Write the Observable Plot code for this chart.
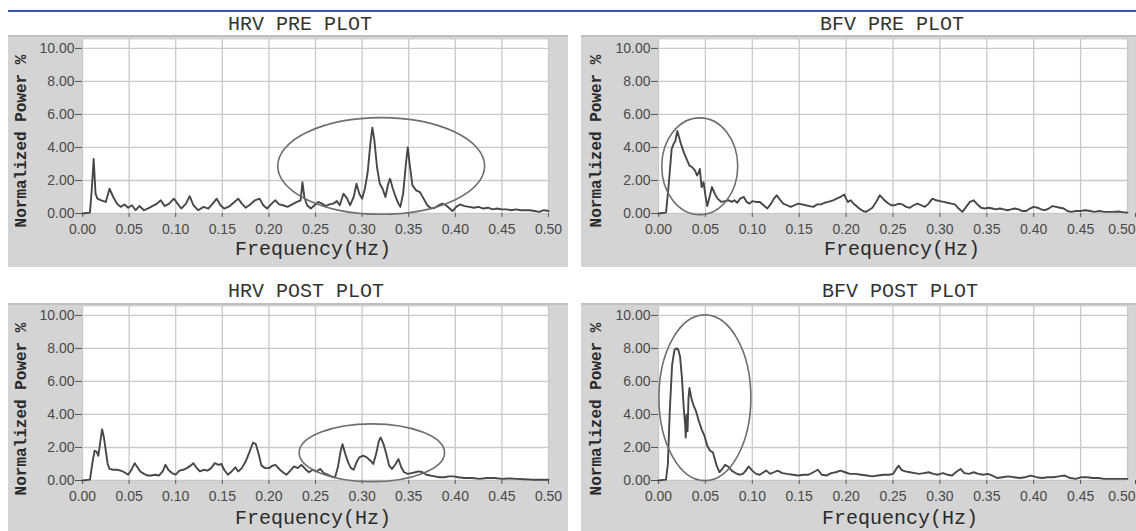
<!DOCTYPE html>
<html><head><meta charset="utf-8">
<script src="https://cdn.jsdelivr.net/npm/d3@7"></script>
<script src="https://cdn.jsdelivr.net/npm/@observablehq/plot@0.6"></script>
<style>
html,body{margin:0;padding:0;background:#fff;width:1136px;height:531px;overflow:hidden;}
#root{position:relative;width:1136px;height:531px;overflow:hidden;}
.frame{position:absolute;background:#d4d4d4;border-top:2px solid #c0c0c0;box-sizing:border-box;}
.frame svg{position:absolute;left:0;top:-2px;}
.txt{position:absolute;font-family:"Courier New","Liberation Mono",monospace;color:#333;white-space:nowrap;line-height:1;transform:translate(-50%,-50%);}
.title{font-size:20px;}
.xlab{font-size:20px;color:#2a2a2a;}
.ylab{font-size:16px;font-weight:bold;color:#2a2a2a;transform:translate(-50%,-50%) rotate(-90deg);}
.blue{position:absolute;left:8px;top:10px;width:1128px;height:2px;background:#3a53b3;}
</style></head>
<body><div id="root"><div class="blue"></div></div>
<script>
// ---- data ----
const xTicks = [0,0.05,0.10,0.15,0.20,0.25,0.30,0.35,0.40,0.45,0.50];
const yTicks = [0,2,4,6,8,10];
const panelTitles = ["HRV PRE PLOT","BFV PRE PLOT","HRV POST PLOT","BFV POST PLOT"];
const xLabel = "Frequency(Hz)";
const yLabel = "Normalized Power %";

const hrvPreHz = [0,0.008,0.010,0.012,0.014,0.016,0.020,0.025,0.029,0.033,0.037,0.041,0.045,0.049,0.053,0.057,0.061,0.066,0.070,0.075,0.080,0.084,0.088,0.093,0.098,0.102,0.106,0.111,0.115,0.119,0.124,0.130,0.135,0.139,0.144,0.148,0.152,0.158,0.163,0.167,0.171,0.175,0.180,0.185,0.190,0.194,0.198,0.203,0.207,0.211,0.215,0.220,0.225,0.230,0.234,0.236,0.238,0.241,0.245,0.249,0.253,0.257,0.261,0.265,0.269,0.273,0.276,0.280,0.284,0.287,0.291,0.294,0.297,0.300,0.303,0.306,0.309,0.311,0.313,0.316,0.319,0.322,0.325,0.328,0.330,0.333,0.336,0.339,0.341,0.344,0.347,0.349,0.351,0.354,0.358,0.362,0.366,0.370,0.374,0.378,0.382,0.386,0.390,0.394,0.397,0.401,0.405,0.410,0.415,0.420,0.425,0.430,0.435,0.440,0.445,0.450,0.455,0.460,0.465,0.470,0.475,0.480,0.485,0.490,0.495,0.500];
const hrvPrePower = [0,0.05,1.5,3.3,1.2,0.9,0.8,0.7,1.5,1.0,0.6,0.4,0.55,0.35,0.5,0.2,0.45,0.2,0.3,0.45,0.6,0.8,0.45,0.6,0.9,0.6,0.3,0.6,1.05,0.5,0.2,0.4,0.3,0.55,0.9,0.5,0.3,0.45,0.7,0.9,0.6,0.35,0.55,0.8,0.9,0.5,0.3,0.6,0.8,0.55,0.5,0.4,0.55,0.7,0.8,1.9,1.0,0.5,0.3,0.5,0.7,0.6,0.45,0.55,0.6,0.75,0.5,1.2,0.9,0.5,1.0,1.8,1.2,0.9,1.5,2.5,4.3,5.2,4.5,2.8,1.8,1.5,1.0,1.8,2.1,1.5,1.0,0.6,0.4,1.2,3.0,4.0,3.0,1.7,1.4,1.3,0.9,0.5,0.3,0.35,0.5,0.6,0.5,0.3,0.15,0.4,0.55,0.45,0.4,0.35,0.4,0.3,0.35,0.25,0.3,0.25,0.25,0.2,0.25,0.2,0.2,0.2,0.15,0.1,0.2,0.15];

const bfvPreHz = [0,0.008,0.010,0.012,0.014,0.016,0.018,0.020,0.022,0.024,0.027,0.030,0.033,0.036,0.039,0.041,0.043,0.044,0.046,0.048,0.050,0.052,0.054,0.057,0.060,0.063,0.067,0.071,0.075,0.078,0.081,0.084,0.087,0.091,0.094,0.097,0.100,0.104,0.108,0.112,0.116,0.120,0.123,0.126,0.130,0.133,0.137,0.141,0.145,0.149,0.153,0.157,0.161,0.165,0.169,0.173,0.177,0.181,0.186,0.190,0.194,0.198,0.200,0.202,0.205,0.208,0.211,0.214,0.218,0.221,0.224,0.228,0.232,0.236,0.240,0.244,0.248,0.252,0.256,0.260,0.264,0.268,0.272,0.276,0.280,0.284,0.288,0.292,0.296,0.300,0.304,0.308,0.312,0.316,0.320,0.324,0.328,0.332,0.336,0.340,0.344,0.348,0.352,0.356,0.360,0.364,0.368,0.372,0.376,0.380,0.384,0.388,0.392,0.396,0.400,0.404,0.408,0.412,0.416,0.420,0.424,0.428,0.432,0.436,0.440,0.445,0.450,0.455,0.460,0.465,0.470,0.475,0.480,0.485,0.490,0.495,0.500];
const bfvPrePower = [0,0.05,1.2,2.5,3.9,4.2,4.4,5.0,4.6,4.2,3.7,3.3,2.9,2.8,2.6,2.3,2.5,2.7,1.6,1.9,1.1,0.45,0.9,1.6,1.2,0.9,0.7,0.75,0.8,0.7,0.8,0.65,0.9,1.0,0.7,0.6,0.75,0.7,0.7,0.5,0.3,0.6,0.9,1.1,0.8,0.6,0.5,0.4,0.5,0.6,0.55,0.5,0.45,0.4,0.55,0.55,0.65,0.7,0.8,0.9,1.0,1.15,0.9,0.7,0.8,0.6,0.45,0.3,0.15,0.1,0.2,0.35,0.7,1.1,0.85,0.65,0.5,0.5,0.6,0.55,0.4,0.35,0.5,0.6,0.5,0.4,0.6,0.9,0.8,0.75,0.7,0.65,0.6,0.55,0.3,0.1,0.4,0.7,0.8,0.55,0.35,0.3,0.35,0.3,0.25,0.3,0.25,0.2,0.25,0.3,0.25,0.15,0.15,0.3,0.4,0.35,0.25,0.2,0.3,0.45,0.4,0.35,0.3,0.15,0.1,0.15,0.15,0.2,0.15,0.1,0.15,0.1,0.1,0.1,0.12,0.08,0.05];

const hrvPostHz = [0,0.008,0.011,0.013,0.015,0.017,0.019,0.021,0.023,0.025,0.027,0.029,0.033,0.037,0.041,0.045,0.049,0.053,0.056,0.059,0.062,0.066,0.070,0.074,0.078,0.082,0.086,0.089,0.092,0.096,0.100,0.104,0.108,0.112,0.116,0.119,0.122,0.126,0.130,0.134,0.138,0.142,0.146,0.149,0.152,0.156,0.160,0.164,0.167,0.171,0.175,0.179,0.183,0.186,0.189,0.192,0.196,0.200,0.204,0.207,0.211,0.215,0.219,0.223,0.227,0.231,0.235,0.239,0.243,0.247,0.251,0.255,0.259,0.263,0.267,0.271,0.274,0.277,0.279,0.282,0.285,0.288,0.291,0.294,0.297,0.301,0.305,0.309,0.312,0.315,0.318,0.320,0.323,0.326,0.329,0.332,0.336,0.339,0.342,0.345,0.349,0.353,0.357,0.361,0.365,0.369,0.373,0.378,0.383,0.388,0.393,0.398,0.403,0.410,0.418,0.426,0.434,0.442,0.450,0.458,0.466,0.474,0.482,0.490,0.500];
const hrvPostPower = [0,0.05,1.2,1.8,1.75,1.5,2.3,3.1,2.6,1.8,1.0,0.7,0.65,0.65,0.6,0.5,0.35,0.7,1.05,0.8,0.55,0.4,0.3,0.3,0.35,0.3,0.55,0.95,0.65,0.45,0.35,0.6,0.65,0.75,0.9,1.05,0.8,0.55,0.65,0.6,0.75,1.05,0.95,1.0,0.65,0.35,0.55,0.8,0.55,0.75,1.15,1.7,2.3,2.2,1.6,0.9,0.75,0.75,0.9,0.95,0.7,0.5,0.35,0.6,0.85,0.75,0.95,0.7,0.5,0.65,0.55,0.7,0.45,0.35,0.25,0.2,0.8,1.8,2.2,1.6,1.1,0.75,0.65,1.1,1.4,1.5,1.4,1.2,1.0,1.6,2.4,2.6,2.2,1.6,0.9,0.7,1.0,1.3,0.8,0.5,0.4,0.45,0.5,0.55,0.5,0.35,0.3,0.25,0.2,0.2,0.25,0.25,0.2,0.15,0.15,0.1,0.15,0.15,0.1,0.12,0.1,0.08,0.05,0.05,0.05];

const bfvPostHz = [0,0.008,0.010,0.012,0.0145,0.017,0.019,0.021,0.023,0.025,0.027,0.0285,0.029,0.030,0.031,0.032,0.033,0.035,0.037,0.040,0.043,0.046,0.049,0.052,0.055,0.058,0.060,0.062,0.065,0.068,0.071,0.074,0.078,0.082,0.086,0.090,0.093,0.096,0.100,0.104,0.108,0.112,0.115,0.119,0.123,0.127,0.132,0.137,0.143,0.149,0.155,0.160,0.165,0.170,0.174,0.179,0.184,0.189,0.194,0.199,0.204,0.210,0.216,0.222,0.228,0.234,0.240,0.246,0.250,0.254,0.256,0.259,0.263,0.268,0.273,0.278,0.283,0.288,0.293,0.298,0.303,0.308,0.313,0.318,0.322,0.326,0.331,0.336,0.341,0.346,0.351,0.356,0.361,0.367,0.373,0.379,0.385,0.391,0.397,0.403,0.409,0.415,0.421,0.427,0.433,0.439,0.445,0.451,0.457,0.463,0.469,0.475,0.481,0.487,0.493,0.500];
const bfvPostPower = [0,0.05,1.0,4.2,7.0,7.9,8.0,7.95,7.5,6.2,4.3,3.3,2.6,4.0,3.0,5.0,5.6,5.0,4.6,4.2,3.6,3.1,2.7,2.1,1.8,1.7,1.3,0.9,0.5,0.7,0.95,0.85,0.6,0.45,0.35,0.4,0.6,0.85,0.6,0.4,0.35,0.5,0.6,0.4,0.5,0.6,0.45,0.4,0.35,0.3,0.35,0.35,0.5,0.65,0.35,0.3,0.45,0.5,0.6,0.5,0.4,0.4,0.35,0.3,0.25,0.3,0.35,0.35,0.4,0.75,0.9,0.65,0.55,0.5,0.45,0.4,0.45,0.5,0.4,0.35,0.45,0.35,0.3,0.55,0.7,0.45,0.4,0.5,0.4,0.35,0.4,0.3,0.15,0.2,0.25,0.2,0.15,0.2,0.3,0.2,0.15,0.2,0.2,0.25,0.3,0.15,0.1,0.2,0.2,0.15,0.15,0.1,0.1,0.1,0.1,0.1];

// ellipse annotations: [center Hz, center power, radius Hz, radius power]
const hrvPreEllipse = [0.321, 2.85, 0.111, 2.93];
const bfvPreEllipse = [0.0445, 2.83, 0.0405, 2.93];
const hrvPostEllipse = [0.311, 1.65, 0.078, 1.75];
const bfvPostEllipse = [0.050, 4.98, 0.049, 5.02];

// ---- layout ----
const panels = [
  {title: panelTitles[0], hz: hrvPreHz, p: hrvPrePower, e: hrvPreEllipse, left: 8, top: 35, w: 560, h: 232, mt: 4, mb: 54, ml: 74, mr: 20, edge: false, tx: 300, ty: 25, lx: 313, ly: 250, yx: 22, yy: 141},
  {title: panelTitles[1], hz: bfvPreHz, p: bfvPrePower, e: bfvPreEllipse, left: 581, top: 35, w: 555, h: 232, mt: 4, mb: 54, ml: 77, mr: 9, edge: true, tx: 892, ty: 25, lx: 902, ly: 250, yx: 597, yy: 141},
  {title: panelTitles[2], hz: hrvPostHz, p: hrvPostPower, e: hrvPostEllipse, left: 8, top: 303, w: 560, h: 228, mt: 3, mb: 51, ml: 74, mr: 20, edge: false, tx: 306, ty: 292, lx: 313, ly: 519, yx: 22, yy: 409},
  {title: panelTitles[3], hz: bfvPostHz, p: bfvPostPower, e: bfvPostEllipse, left: 581, top: 303, w: 555, h: 228, mt: 3, mb: 51, ml: 77, mr: 9, edge: true, tx: 900, ty: 292, lx: 900, ly: 519, yx: 597, yy: 409}
];

const root = document.getElementById("root");
const fmt = d3.format(".2f");

function addText(cls, text, x, y) {
  const d = document.createElement("div");
  d.className = "txt " + cls;
  d.textContent = text;
  d.style.left = x + "px";
  d.style.top = y + "px";
  root.appendChild(d);
}

for (const pn of panels) {
  const data = pn.hz.map((f, i) => ({f, p: pn.p[i]}));
  const [ecx, ecy, erx, ery] = pn.e;
  const ellipseMark = (index, scales) => {
    const cx = scales.x(ecx), cy = scales.y(ecy);
    const rx = Math.abs(scales.x(ecx + erx) - cx), ry = Math.abs(scales.y(ecy + ery) - cy);
    return d3.create("svg:ellipse")
      .attr("cx", cx).attr("cy", cy).attr("rx", rx).attr("ry", ry)
      .attr("fill", "none").attr("stroke", "#6e6e6e").attr("stroke-width", 1.6)
      .node();
  };
  const mainTicks = pn.edge ? xTicks.slice(0, -1) : xTicks;
  const lastTick = pn.edge ? xTicks.slice(-1) : [];
  const chart = Plot.plot({
    width: pn.w, height: pn.h,
    marginTop: pn.mt, marginBottom: pn.mb, marginLeft: pn.ml, marginRight: pn.mr,
    style: {background: "transparent", overflow: "visible", fontFamily: "'Liberation Sans', Arial, sans-serif", fontSize: "14px", color: "#4a4a4a"},
    x: {domain: [0, 0.5]},
    y: {domain: [0, 10.54]},
    marks: [
      Plot.frame({fill: "white", stroke: null}),
      Plot.gridX(xTicks, {stroke: "#c9c9c9", strokeOpacity: 1, strokeWidth: 1.3}),
      Plot.gridY(yTicks, {stroke: "#c9c9c9", strokeOpacity: 1, strokeWidth: 1.3}),
      Plot.axisX(mainTicks, {tickSize: 4, tickPadding: 7, tickFormat: fmt, label: null, stroke: "#555"}),
      Plot.axisX(lastTick, {tickSize: 4, tickPadding: 7, tickFormat: fmt, label: null, stroke: "#555", textAnchor: "end", dx: 8}),
      Plot.axisY(yTicks, {tickSize: 7, tickPadding: 1, tickFormat: fmt, label: null, stroke: "#555"}),
      Plot.line(data, {x: "f", y: "p", stroke: "#474747", strokeWidth: 1.9, strokeLinejoin: "round"}),
      ellipseMark
    ]
  });
  const fr = document.createElement("div");
  fr.className = "frame";
  fr.style.left = pn.left + "px";
  fr.style.top = pn.top + "px";
  fr.style.width = pn.w + "px";
  fr.style.height = pn.h + "px";
  fr.appendChild(chart);
  root.appendChild(fr);
  addText("title", pn.title, pn.tx, pn.ty);
  addText("xlab", xLabel, pn.lx, pn.ly);
  addText("ylab", yLabel, pn.yx, pn.yy);
}
</script>
</body></html>
